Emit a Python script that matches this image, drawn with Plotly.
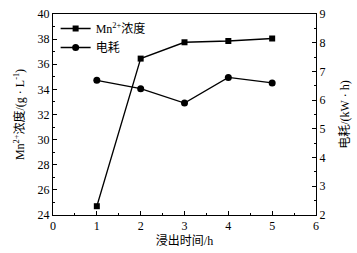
import plotly.graph_objects as go

time_h = [1, 2, 3, 4, 5]
mn_conc = [24.7, 36.45, 37.75, 37.85, 38.05]
power = [6.69, 6.4, 5.9, 6.79, 6.6]

font_main = "Liberation Serif, Noto Sans CJK SC"

fig = go.Figure()
fig.add_trace(go.Scatter(
    x=time_h, y=mn_conc, name="Mn<sup>2+</sup>浓度",
    mode="lines+markers",
    line=dict(color="black", width=1.3),
    marker=dict(symbol="square", size=6, color="black"),
))
fig.add_trace(go.Scatter(
    x=time_h, y=power, name="电耗", yaxis="y2",
    mode="lines+markers",
    line=dict(color="black", width=1.3),
    marker=dict(symbol="circle", size=7, color="black"),
))

axis_common = dict(
    showline=True, linecolor="black", linewidth=1,
    ticks="inside", ticklen=4, tickcolor="black",
    showgrid=False, zeroline=False,
    tickfont=dict(family=font_main, size=12, color="black"),
)

fig.update_layout(
    width=357, height=253,
    margin=dict(l=53, r=38, t=7, b=33),
    paper_bgcolor="white", plot_bgcolor="white",
    font=dict(family=font_main, size=12, color="black"),
    showlegend=True,
    legend=dict(x=0.01, y=1.0, xanchor="left", yanchor="top",
                bgcolor="rgba(0,0,0,0)", font=dict(size=12),
                tracegroupgap=0, itemwidth=30),
    xaxis=dict(
        range=[0, 6], dtick=1, mirror=True,
        minor=dict(dtick=0.5, ticks="inside", ticklen=2, tickcolor="black"),
        title=dict(text="浸出时间/h", font=dict(size=12), standoff=4),
        **axis_common,
    ),
    yaxis=dict(
        range=[24, 40], dtick=2,
        minor=dict(dtick=1, ticks="inside", ticklen=2, tickcolor="black"),
        title=dict(text="Mn<sup>2+</sup>浓度/(g · L<sup>-1</sup>)", font=dict(size=12), standoff=10),
        **axis_common,
    ),
    yaxis2=dict(
        range=[2, 9], dtick=1, overlaying="y", side="right",
        minor=dict(dtick=0.5, ticks="inside", ticklen=2, tickcolor="black"),
        title=dict(text="电耗/(kW · h)", font=dict(size=12), standoff=16),
        **axis_common,
    ),
)

fig.write_html("out.html")
